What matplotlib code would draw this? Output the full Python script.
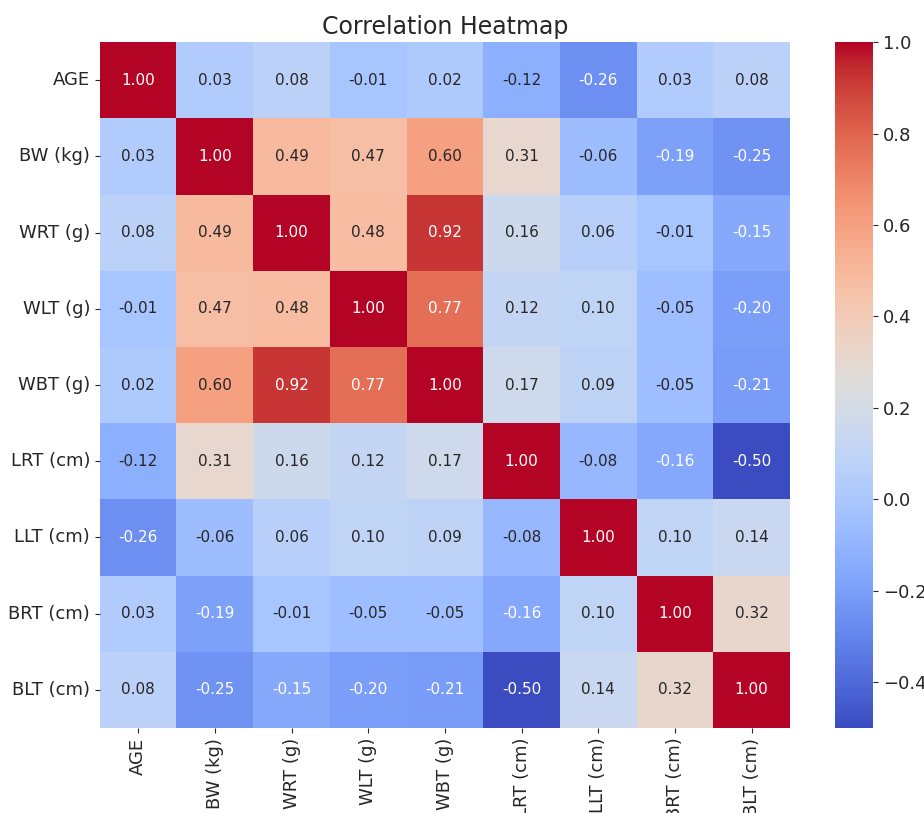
import numpy as np
import pandas as pd
import matplotlib
matplotlib.use("Agg")
import matplotlib.pyplot as plt
import seaborn as sns

# === Data ===
labels = ["AGE", "BW (kg)", "WRT (g)", "WLT (g)", "WBT (g)",
          "LRT (cm)", "LLT (cm)", "BRT (cm)", "BLT (cm)"]

corr_values = [
    [1.00, 0.03, 0.08, -0.01, 0.02, -0.12, -0.26, 0.03, 0.08],
    [0.03, 1.00, 0.49, 0.47, 0.60, 0.31, -0.06, -0.19, -0.25],
    [0.08, 0.49, 1.00, 0.48, 0.92, 0.16, 0.06, -0.01, -0.15],
    [-0.01, 0.47, 0.48, 1.00, 0.77, 0.12, 0.10, -0.05, -0.20],
    [0.02, 0.60, 0.92, 0.77, 1.00, 0.17, 0.09, -0.05, -0.21],
    [-0.12, 0.31, 0.16, 0.12, 0.17, 1.00, -0.08, -0.16, -0.50],
    [-0.26, -0.06, 0.06, 0.10, 0.09, -0.08, 1.00, 0.10, 0.14],
    [0.03, -0.19, -0.01, -0.05, -0.05, -0.16, 0.10, 1.00, 0.32],
    [0.08, -0.25, -0.15, -0.20, -0.21, -0.50, 0.14, 0.32, 1.00],
]

corr = pd.DataFrame(corr_values, index=labels, columns=labels)

# dark grey text like the reference
plt.rcParams["text.color"] = ".15"
plt.rcParams["xtick.color"] = ".15"
plt.rcParams["ytick.color"] = ".15"
plt.rcParams["xtick.labelcolor"] = ".15"
plt.rcParams["ytick.labelcolor"] = ".15"

# === Plot ===
fig = plt.figure(figsize=(9.24, 8.13), dpi=100)
ax = fig.add_axes([0.108, 0.1046, 0.747, 0.8436])
cax = fig.add_axes([0.904, 0.1046, 0.041, 0.8436])

sns.heatmap(corr, annot=True, fmt=".2f", cmap="coolwarm",
            ax=ax, cbar_ax=cax, annot_kws={"size": 11})

ax.set_title("Correlation Heatmap", fontsize=17)
ax.tick_params(axis="both", labelsize=13)
plt.setp(ax.get_xticklabels(), rotation=90)
plt.setp(ax.get_yticklabels(), rotation=0)
cax.tick_params(labelsize=13)

fig.savefig("out.png", dpi=100)
